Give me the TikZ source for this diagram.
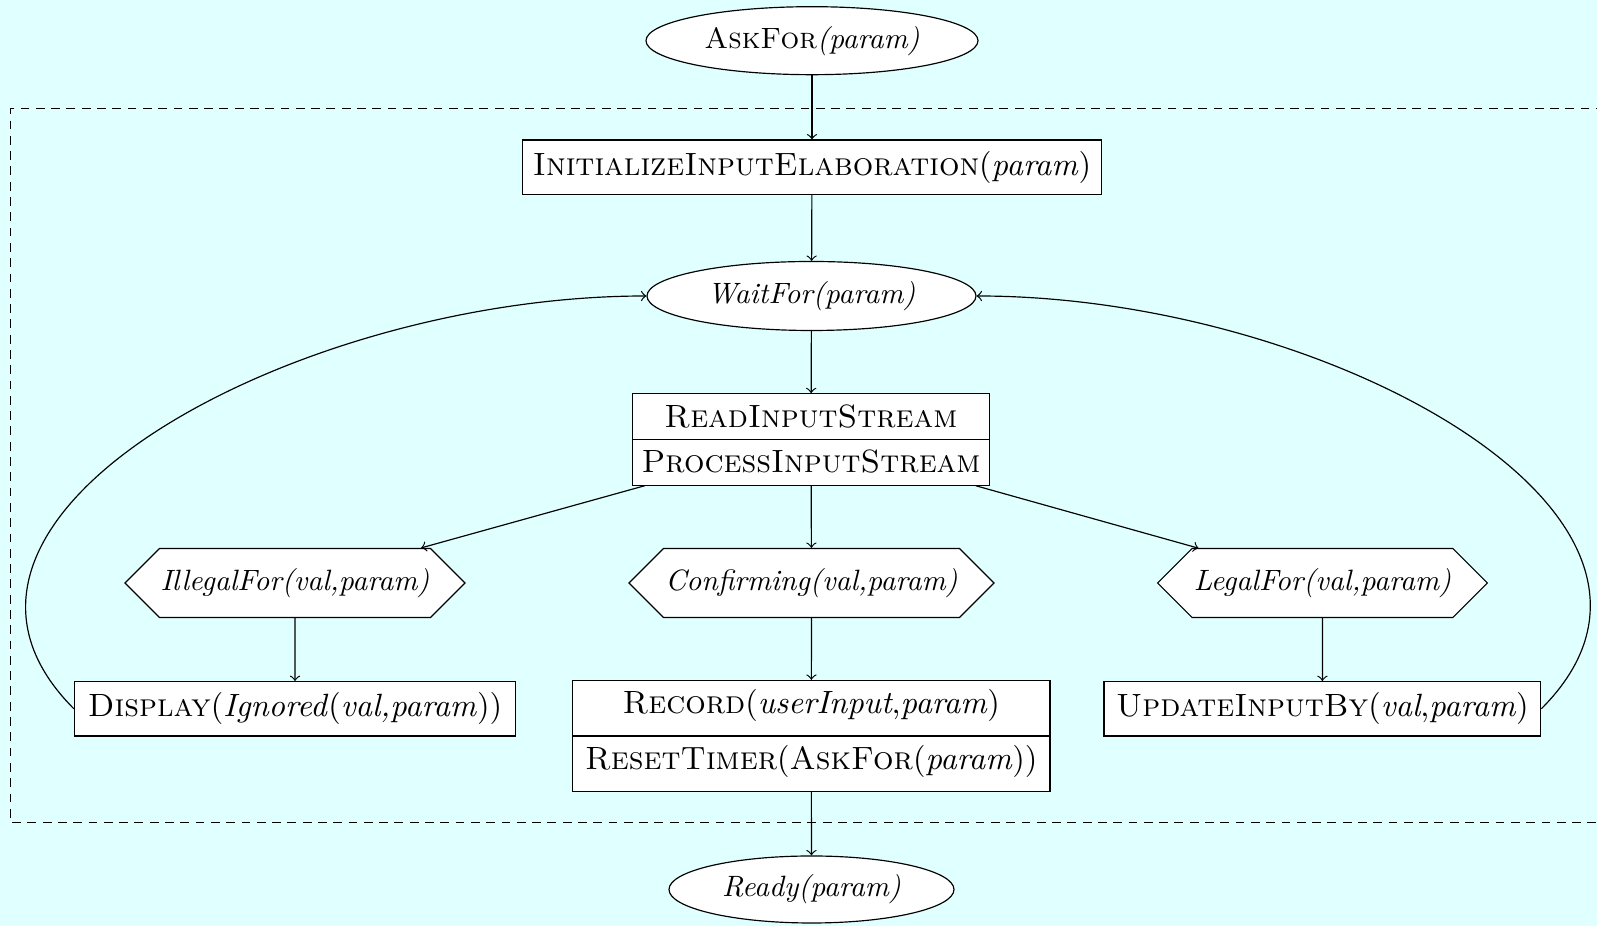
\documentclass[tikz,border=0pt]{standalone}
\usetikzlibrary{shapes.geometric,shapes.multipart,shapes.symbols}
\definecolor{bgcyan}{RGB}{224,255,255}
\newdimen\pxu
\pxu=0.34pt
\begin{document}
\begin{tikzpicture}[x=0.34pt,y=0.34pt,
  base/.style={draw, fill=white, inner sep=0pt},
  oval/.style={base, ellipse},
  bigtext/.style={font=\fontsize{10.95}{13.6}\selectfont},
  box/.style={base, bigtext, rectangle, minimum height=54.3*\pxu},
  cond/.style={base, signal, signal to=west and east, signal pointer angle=90, minimum height=69*\pxu},
  twobox/.style={base, bigtext, rectangle split, rectangle split parts=2},
  flow/.style={->},
  region/.style={dash pattern=on 3pt off 2.2pt}
]
\useasboundingbox (0,0) rectangle (1597,926);
\fill[bgcyan] (0,0) rectangle (1597,926);

% region of the input elaboration
\draw[region] (1620,817.3) -- (10.7,817.3) -- (10.7,103.3) -- (1620,103.3);

% states and actions
\node[oval, minimum width=332*\pxu, minimum height=68*\pxu] (ask) at (812,885.3) {\textsc{AskFor}\textit{(param)}};
\node[box, minimum width=578.5*\pxu] (init) at (812,758.8) {\textsc{InitializeInputElaboration}(\textit{param})};
\node[oval, minimum width=329*\pxu, minimum height=69*\pxu] (wait) at (811.5,630) {\textit{WaitFor(param)}};
\node[twobox, minimum width=357.7*\pxu] (rp) at (811,486.5)
  {\rule[-11.7\pxu]{0pt}{44.5\pxu}\textsc{ReadInputStream}
   \nodepart{two}\rule[-11.7\pxu]{0pt}{44.5\pxu}\textsc{ProcessInputStream}};

\node[cond, minimum width=340*\pxu] (illegal) at (295,343) {\textit{IllegalFor(val,param)}};
\node[cond, minimum width=365*\pxu] (confirm) at (811.5,343) {\textit{Confirming(val,param)}};
\node[cond, minimum width=329.7*\pxu] (legal) at (1322.5,343) {\textit{LegalFor(val,param)}};

\node[box, minimum width=441*\pxu] (display) at (295,217.2) {\textsc{Display}(\textit{Ignored}(\textit{val,param}))};
\node[twobox, minimum width=477.3*\pxu] (record) at (811.3,190)
  {\rule[-21.9\pxu]{0pt}{54.4\pxu}\textsc{Record}(\textit{userInput},\textit{param})
   \nodepart{two}\rule[-21.9\pxu]{0pt}{54.4\pxu}\textsc{ResetTimer}(\textsc{AskFor}(\textit{param}))};
\node[box, minimum width=436.7*\pxu] (update) at (1322.4,217.2) {\textsc{UpdateInputBy}(\textit{val},\textit{param})};

\node[oval, minimum width=285*\pxu, minimum height=67*\pxu] (ready) at (811.5,36.5) {\textit{Ready(param)}};

% connectors
\draw[flow] (ask) -- (init);
\draw[flow] (init) -- (wait);
\draw[flow] (wait) -- (rp);
\draw[flow] (rp) -- (illegal);
\draw[flow] (rp) -- (confirm);
\draw[flow] (rp) -- (legal);
\draw[flow] (illegal) -- (display);
\draw[flow] (confirm) -- (record);
\draw[flow] (legal) -- (update);
\draw[flow] (record) -- (ready);
\draw[flow] (display.west) .. controls +(-191,191) and +(-350,0) .. (wait.west);
\draw[flow] (update.east) .. controls +(191,191) and +(350,0) .. (wait.east);
\end{tikzpicture}
\end{document}
